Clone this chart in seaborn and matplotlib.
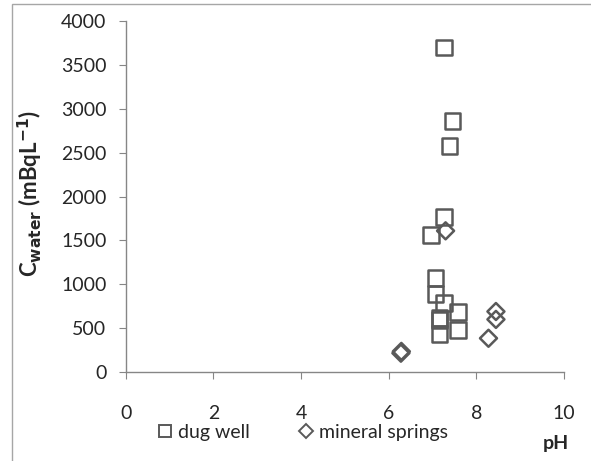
import numpy as np
import pandas as pd
import matplotlib.pyplot as plt
import seaborn as sns
from matplotlib.lines import Line2D

# valores
ph_poco = [7.27, 7.46, 7.39, 7.27, 6.96, 7.07, 7.07, 7.27, 7.16, 7.16, 7.16, 7.59, 7.59]
c_poco = [3700, 2860, 2580, 1770, 1560, 1070, 890, 790, 620, 590, 430, 680, 475]

ph_fonte = [7.30, 6.28, 6.29, 8.45, 8.45, 8.28]
c_fonte = [1610, 215, 235, 690, 600, 385]

rotulos = ['dug well', 'mineral springs']

sns.set_style('white')
plt.rcParams['font.family'] = ['Lato', 'DejaVu Sans']
plt.rcParams['mathtext.default'] = 'bf'

cinza = '#595959'
texto = '#262626'
fig = plt.figure(figsize=(5.91, 4.61), dpi=100)
ax = fig.add_axes([0.213, 0.193, 0.741, 0.761])

dados = pd.DataFrame({'pH': ph_poco + ph_fonte,
                      'C': c_poco + c_fonte,
                      'tipo': [rotulos[0]] * len(ph_poco) + [rotulos[1]] * len(ph_fonte)})

sns.scatterplot(data=dados[dados.tipo == rotulos[0]], x='pH', y='C', marker='s',
                s=130, fc='none', ec=cinza, linewidth=1.8, ax=ax, legend=False)
sns.scatterplot(data=dados[dados.tipo == rotulos[1]], x='pH', y='C', marker='D',
                s=75, fc='none', ec=cinza, linewidth=1.8, ax=ax, legend=False)

ax.set_xlim(0, 10)
ax.set_ylim(0, 4000)
ax.set_xticks(np.arange(0, 11, 2))
ax.set_yticks(np.arange(0, 4001, 500))
sns.despine(ax=ax)
for lado in ['left', 'bottom']:
    ax.spines[lado].set_color('#868686')
    ax.spines[lado].set_linewidth(1.0)
ax.tick_params(axis='both', direction='out', length=5, color='#868686',
               labelsize=14, labelcolor=texto, left=True, bottom=True)
ax.tick_params(axis='x', pad=19)
ax.tick_params(axis='y', pad=9)
ax.set_xlabel('')
ax.set_ylabel(r'C$_{water}$ (mBqL$^{-1}$)', fontsize=16, fontweight='bold', color=texto)
ax.yaxis.set_label_coords(-0.185, 0.51)

fig.text(0.94, 0.037, 'pH', fontsize=14, fontweight='bold', color=texto,
         ha='center', va='center')

alcas = [Line2D([], [], ls='none', marker='s', ms=9, mfc='none', mec=cinza, mew=1.4),
         Line2D([], [], ls='none', marker='D', ms=7.5, mfc='none', mec=cinza, mew=1.4)]
fig.legend(alcas, rotulos, loc='center', bbox_to_anchor=(0.51, 0.062), ncol=2,
           frameon=False, fontsize=14, handletextpad=0.15, columnspacing=2.4,
           handlelength=1.0, labelcolor=texto)

# moldura cinza do grafico
fig.add_artist(plt.Rectangle((0.02, -0.02), 1.0, 1.011, transform=fig.transFigure,
                             fill=False, ec='#a6a6a6', lw=1.0))

plt.savefig('out.png', dpi=100)
